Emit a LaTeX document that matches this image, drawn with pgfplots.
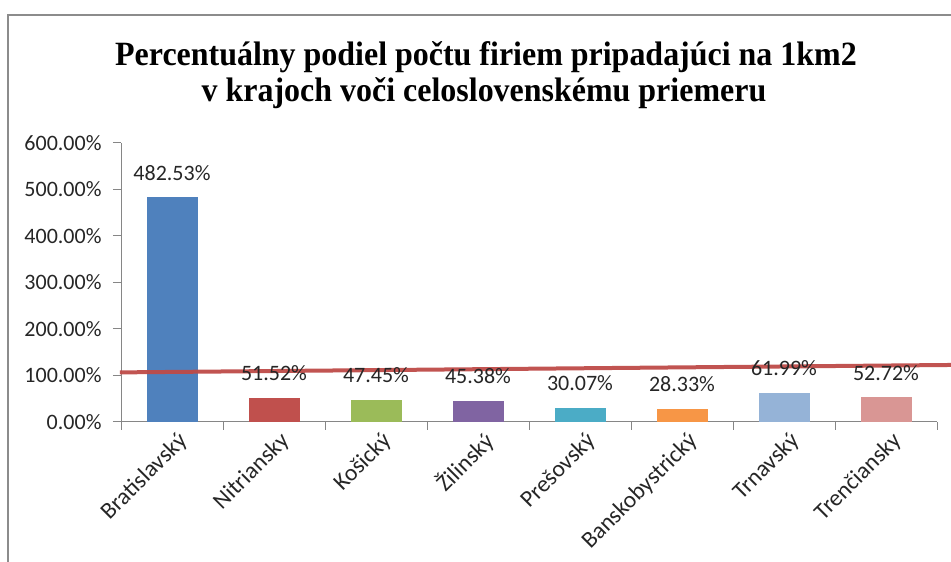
\documentclass[border=0pt]{standalone}
\usepackage{pgfplots}
\pgfplotsset{compat=1.18}
\usepackage{fontspec}
\setmainfont{Carlito}
\newfontfamily\titlefont[FakeStretch=0.94]{Liberation Serif}
\definecolor{c1}{HTML}{4F81BD}
\definecolor{c2}{HTML}{C0504D}
\definecolor{c3}{HTML}{9BBB59}
\definecolor{c4}{HTML}{8064A2}
\definecolor{c5}{HTML}{4BACC6}
\definecolor{c6}{HTML}{F79646}
\definecolor{c7}{HTML}{95B3D7}
\definecolor{c8}{HTML}{D99694}
\definecolor{axgray}{HTML}{868686}
\definecolor{framegray}{HTML}{8C8C8C}
\definecolor{linered}{HTML}{BE4B48}
\definecolor{txt}{HTML}{262626}
\pgfplotsset{
  mybar/.style={ybar, bar width=51bp, bar shift=0pt, fill=#1, draw=none,
    nodes near coords={\pgfmathprintnumber[fixed,fixed zerofill,precision=2]{\pgfplotspointmeta}\%},
    every node near coord/.append style={anchor=base, yshift=17bp, font=\fontsize{22bp}{26bp}\selectfont, text=txt}},
}
\begin{document}
\begin{tikzpicture}[x=1bp,y=1bp]
\path[use as bounding box] (0,0) rectangle (951,562);
\draw[framegray, line width=2bp] (8,0) -- (8,547) -- (951,547);
\node[anchor=base, font=\titlefont\bfseries\fontsize{34bp}{40bp}\selectfont] at (486,496) {Percentuálny podiel počtu firiem pripadajúci na 1km2};
\node[anchor=base, font=\titlefont\bfseries\fontsize{34bp}{40bp}\selectfont] at (484,460.3) {v krajoch voči celoslovenskému priemeru};
\begin{axis}[
  at={(121bp,140.3bp)}, anchor=south west,
  scale only axis, width=816bp, height=279bp,
  xmin=-0.5, xmax=7.5, ymin=0, ymax=600,
  clip=false,
  axis x line*=bottom, axis y line*=left,
  axis line style={draw=axgray, line width=1bp, -},
  tick align=outside,
  major tick length=8bp,
  ytick={0,100,...,600},
  ytick style={draw=axgray, line width=1bp},
  /pgf/number format/assume math mode=true,
  yticklabel={\pgfmathprintnumber[fixed,fixed zerofill,precision=2,1000 sep={}]{\tick}\%},
  yticklabel style={font=\fontsize{22bp}{26bp}\selectfont, text=txt, xshift=-8bp},
  xtick={0,...,7},
  xticklabels={Bratislavský,Nitriansky,Košický,Žilinský,Prešovský,Banskobystrický,Trnavský,Trenčiansky},
  xtick style={draw=none},
  xticklabel style={rotate=45, anchor=east, font=\fontsize{23.5bp}{27bp}\selectfont, text=txt, xshift=6bp, yshift=-14bp},
  extra x ticks={-0.5,0.5,...,7.5},
  extra x tick labels={},
  extra x tick style={xtick style={draw=axgray, line width=1bp}},
]
\addplot[mybar=c1] coordinates {(0,482.53)};
\addplot[mybar=c2] coordinates {(1,51.52)};
\addplot[mybar=c3] coordinates {(2,47.45)};
\addplot[mybar=c4] coordinates {(3,45.38)};
\addplot[mybar=c5] coordinates {(4,30.07)};
\addplot[mybar=c6] coordinates {(5,28.33)};
\addplot[mybar=c7] coordinates {(6,61.99)};
\addplot[mybar=c8] coordinates {(7,52.72)};
\addplot[draw=linered, line width=4bp, opacity=0.95] coordinates {(-0.51,106) (7.64,122)};
\end{axis}
\end{tikzpicture}
\end{document}
